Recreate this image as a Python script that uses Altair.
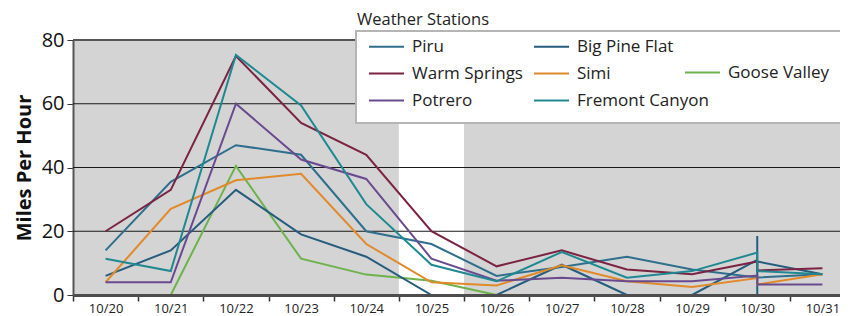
import altair as alt
import pandas as pd

DAYS = ["10/20", "10/21", "10/22", "10/23", "10/24", "10/25",
        "10/26", "10/27", "10/28", "10/29", "10/30", "10/31"]
OPEN_DAY = ["10/25"]
GRID_VALUES = [20, 40, 60]
TOP_VALUE = [80]

STATIONS = ["Piru", "Warm Springs", "Potrero", "Big Pine Flat", "Simi", "Fremont Canyon"]
COLORS = ["#2f6f8d", "#7a2343", "#6a4a8f", "#265c7d", "#e08a2a", "#1f8891"]

piru_days = DAYS
piru = [14, 35.5, 47, 44, 20, 16, 6, 8.8, 12, 8, 5.5, 6.5]

big_pine_days = DAYS[:11] + ["10/30", "10/30", "10/30", "10/31"]
big_pine_flat = [6, 14, 33, 19, 12, 0, 0, 9.5, 0, 0, 11, 18.5, 0, 10.5, 6.5]

warm_days = DAYS[:11] + ["10/30", "10/31"]
warm_springs = [20, 33, 75, 54, 44, 20, 9, 14, 8, 6.5, 10.5, 7.7, 8.4]

simi_days = DAYS[:11] + ["10/30", "10/31"]
simi = [4, 27, 36, 38, 16, 4, 3, 9.3, 4.3, 2.5, 5.3, 3.3, 6.5]

potrero_days = DAYS[:11] + ["10/30", "10/31"]
potrero = [4, 4, 60, 42.5, 36.4, 11.4, 4.5, 5.4, 4.3, 4.3, 6.1, 3.3, 3.3]

fremont_days = DAYS[:11] + ["10/30", "10/31"]
fremont_canyon = [11.4, 7.5, 75.3, 59.5, 28.5, 9.5, 4.3, 13.5, 5.4, 7.5, 13.3, 7.5, 6.5]

goose_days = DAYS[:7]
goose_valley = [0, 0, 40.5, 11.4, 6.4, 4.5, 0]


def frame(name, days, values):
    return pd.DataFrame({"station": name, "day": days, "mph": values,
                         "seq": list(range(len(values)))})


lines_df = pd.concat([
    frame("Piru", piru_days, piru),
    frame("Big Pine Flat", big_pine_days, big_pine_flat),
    frame("Warm Springs", warm_days, warm_springs),
    frame("Simi", simi_days, simi),
    frame("Potrero", potrero_days, potrero),
    frame("Fremont Canyon", fremont_days, fremont_canyon),
], ignore_index=True)
goose_df = frame("Goose Valley", goose_days, goose_valley)

FONT = "Open Sans"
W, H = 767, 255

xscale = alt.Scale(type="band", domain=DAYS, range=[0, 782], paddingInner=0, paddingOuter=0)
yscale = alt.Scale(domain=[0, 80], nice=False, zero=True)

x_axis = alt.Axis(title=None, tickBand="extent", labelAngle=0, labelFontSize=13,
                  labelFont=FONT, labelColor="#222", domainColor="#4d4d4d",
                  domainWidth=3, tickColor="#333", tickWidth=1.5, tickSize=6,
                  labelPadding=1, grid=False)
y_axis = alt.Axis(title="Miles Per Hour", values=[0, 20, 40, 60, 80], grid=False,
                  domainColor="#555", domainWidth=2, tickColor="#333", tickSize=6,
                  labelFontSize=20, labelFont=FONT, labelColor="#111", labelPadding=3,
                  titleFont=FONT, titleFontSize=20, titleFontWeight="bold",
                  titleColor="#111", titlePadding=7)

band = alt.Chart(pd.DataFrame({"day": OPEN_DAY})).mark_rect(color="white").encode(
    x=alt.X("day:O", scale=xscale, axis=x_axis),
    y=alt.datum(0, scale=yscale, axis=y_axis),
    y2=alt.datum(80),
)

grid = alt.Chart(pd.DataFrame({"v": GRID_VALUES})).mark_rule(color="#1a1a1a", strokeWidth=1).encode(
    y=alt.Y("v:Q", scale=yscale)
)
top = alt.Chart(pd.DataFrame({"v": TOP_VALUE})).mark_rule(color="#555", strokeWidth=2).encode(
    y=alt.Y("v:Q", scale=yscale)
)

goose = alt.Chart(goose_df).mark_line(strokeWidth=2).encode(
    x=alt.X("day:O", scale=xscale, bandPosition=0.5),
    y=alt.Y("mph:Q", scale=yscale),
    order="seq:Q",
    color=alt.Color("station:N",
                    scale=alt.Scale(domain=["Goose Valley"], range=["#6db24d"]),
                    legend=alt.Legend(title=None, orient="none", legendX=611, legendY=14,
                                      symbolType="stroke", symbolSize=1225,
                                      symbolStrokeWidth=2, labelFontSize=17,
                                      labelFont=FONT, labelColor="#222", labelOffset=7,
                                      padding=0)),
)

stations = alt.Chart(lines_df).mark_line(strokeWidth=2).encode(
    x=alt.X("day:O", scale=xscale, bandPosition=0.5),
    y=alt.Y("mph:Q", scale=yscale),
    order="seq:Q",
    detail="station:N",
    color=alt.Color("station:N",
                    scale=alt.Scale(domain=STATIONS, range=COLORS),
                    legend=alt.Legend(title=None, orient="none", legendX=295, legendY=-12,
                                      columns=2, symbolType="stroke", symbolSize=1225,
                                      symbolStrokeWidth=2, labelFontSize=17,
                                      labelFont=FONT, labelColor="#222", labelOffset=7,
                                      columnPadding=7, rowPadding=-3, padding=0)),
)

box = alt.Chart(alt.Data(values=[{}])).mark_rect(
    fill="white", stroke="#b5b5b5", strokeWidth=2
).encode(
    x=alt.value(283), x2=alt.value(769), y=alt.value(-9), y2=alt.value(83)
)

legend_title = alt.Chart(alt.Data(values=[{}])).mark_text(
    align="left", baseline="alphabetic", font=FONT, fontSize=16.5, color="#222"
).encode(
    x=alt.value(284), y=alt.value(-15), text=alt.value("Weather Stations")
)

chart = alt.layer(band, grid, top, goose, stations, box, legend_title).resolve_scale(
    color="independent"
).resolve_legend(color="independent").properties(
    width=W, height=H, autosize="none",
    padding={"left": 65, "top": 32, "right": 0, "bottom": 21},
).configure_view(fill="#d4d4d4", stroke=None)

chart.save("out.html", embed_options={"renderer": "svg", "actions": False})
